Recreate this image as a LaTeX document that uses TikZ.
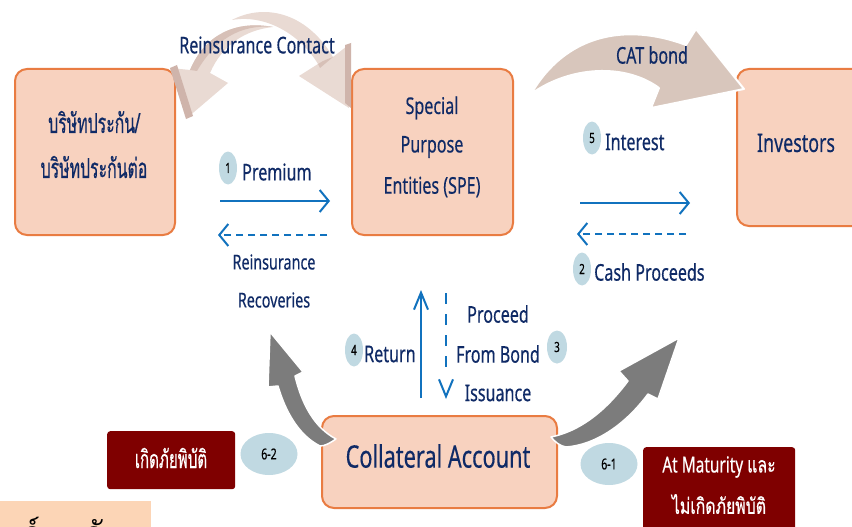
\documentclass[tikz,border=0pt]{standalone}
\usepackage{fontspec}
\usetikzlibrary{arrows.meta,shapes.geometric}
\setmainfont[FakeStretch=0.70,FakeBold=0.35]{Noto Sans}
\newfontfamily\thaifont[Script=Thai,FakeStretch=0.72,FakeBold=0.5]{Loma}
\newfontfamily\thaibold[Script=Thai]{Loma}
\definecolor{peach}{HTML}{F8D2BF}
\definecolor{edgeorange}{HTML}{E97C42}
\definecolor{navy}{HTML}{0F2A66}
\definecolor{flowblue}{HTML}{1172BE}
\definecolor{badge}{HTML}{C0D9E2}
\definecolor{darkred}{HTML}{7F0000}
\definecolor{bandpeach}{HTML}{FCD5B6}
\definecolor{catbody}{HTML}{D8C6BC}
\definecolor{paletan}{HTML}{E9DAD3}
\definecolor{bartan}{HTML}{CFB4AB}
\definecolor{arrgray}{HTML}{7C7C7C}
\tikzset{
  entity/.style={draw=edgeorange,fill=peach,line width=2pt,rounded corners=12pt,inner sep=0pt,anchor=north west},
  lab/.style={text=navy,font=\fontsize{23}{26}\selectfont,inner sep=0pt},
  labsmall/.style={lab,font=\fontsize{20.5}{24}\selectfont},
  numsmall/.style={ellipse,fill=badge,inner sep=0pt,text=black,minimum width=18pt,minimum height=33pt,font=\fontsize{14}{14}\selectfont},
  numbig/.style={ellipse,fill=badge,inner sep=0pt,text=black,minimum width=57pt,minimum height=42pt,font=\fontsize{15}{15}\selectfont},
  flow/.style={flowblue,line width=2pt,-{Straight Barb[length=9pt,width=22pt,line width=2pt]}},
  flowd/.style={flow,dash pattern=on 7pt off 5pt},
  flowv/.style={flowblue,line width=2pt,-{Straight Barb[length=17pt,width=14pt,line width=2pt]}},
  flowvd/.style={flowblue,line width=2pt,dash pattern=on 11pt off 10pt},
  tagbox/.style={fill=darkred,rounded corners=3pt,inner sep=0pt,anchor=north west},
  taglab/.style={text=white,inner sep=0pt,font=\fontsize{22}{24}\selectfont},
}
\begin{document}
\begin{tikzpicture}[x=1pt,y=-1pt]
\clip (0,0) rectangle (852,527);
\fill[white] (0,0) rectangle (852,527);
% bottom-left band
\fill[bandpeach] (0,501) rectangle (151,527);
\node[anchor=base,inner sep=0pt,text=black,font=\thaibold\fontsize{30}{30}\selectfont] (bandA) at (32,543) {ร์};
\node[anchor=base,inner sep=0pt,text=black,font=\thaibold\fontsize{30}{30}\selectfont] (bandB) at (94,543) {กั};
% entities
\node[entity,minimum width=160pt,minimum height=166pt] (ins) at (14,68) {};
\node[entity,minimum width=161pt,minimum height=166pt] (spe) at (351,68) {};
\node[entity,minimum width=140pt,minimum height=157pt] (inv) at (736,68) {};
\node[entity,minimum width=235pt,minimum height=92pt] (coll) at (321,415) {};
% reinsurance curved arrows
\fill[paletan] (232,20) .. controls (262,4) and (305,10) .. (333,57) -- (351,43) -- (349,108) -- (299,76) -- (318,64) .. controls (300,34) and (265,14) .. (232,20) -- cycle;
\fill[bartan] (345,45) -- (351,43) -- (351,108) -- (345,103) -- cycle;
\fill[bartan!70!paletan] (318,64) .. controls (324,60) and (328,59) .. (333,57) -- (320,68) -- cycle;
\fill[paletan] (273,27) .. controls (235,20) and (205,35) .. (190,70) -- (170,68) -- (187,118) -- (228,83) -- (210,73) .. controls (222,45) and (245,30) .. (273,27) -- cycle;
\fill[bartan] (170,68) -- (177,65) -- (193,116) -- (186,119) -- cycle;
\fill[bartan!70!paletan] (190,70) .. controls (205,35) and (235,20) .. (273,27) .. controls (240,24) and (215,40) .. (197,71) -- cycle;
% CAT bond arrow
\filldraw[catbody,draw=white,line width=2pt,line join=round] (531,94) .. controls (565,35) and (625,22) .. (686,45) -- (696,29) -- (744,89) -- (651,108) -- (659,88) .. controls (625,63) and (570,66) .. (531,94) -- cycle;
% gray arrows
\filldraw[arrgray,draw=white,line width=1.5pt,line join=round] (270,332) -- (303,372) -- (295,376) .. controls (302,405) and (315,428) .. (336,439) .. controls (330,443) and (325,446) .. (320,446) .. controls (298,435) and (285,410) .. (278,386) -- (268,387) -- cycle;
\filldraw[arrgray,draw=white,line width=1.5pt,line join=round] (551,437) .. controls (585,430) and (610,405) .. (628,381) -- (619,371) -- (679,338) -- (658,399) -- (648,394) .. controls (625,425) and (595,445) .. (566,447) .. controls (560,446) and (555,442) .. (551,437) -- cycle;
% tags
\node[tagbox,minimum width=128pt,minimum height=58pt] (tagA) at (107,431) {};
\node[tagbox,minimum width=152pt,minimum height=90pt] (tagB) at (643,447) {};
% connectors
\coordinate (premS) at (220,201); \coordinate (premE) at (330,201);
\coordinate (recS) at (327,235); \coordinate (recE) at (218,235);
\coordinate (intS) at (580,203); \coordinate (intE) at (690,203);
\coordinate (cashS) at (686,234); \coordinate (cashE) at (577,234);
\coordinate (retS) at (421,398); \coordinate (retE) at (421,290);
\coordinate (prS) at (446,293); \coordinate (prM) at (446,372);
\coordinate (prH) at (446,394); \coordinate (prE) at (446,399);
\draw[flow] (premS) -- (premE);
\draw[flowd] (recS) -- (recE);
\draw[flow] (intS) -- (intE);
\draw[flowd] (cashS) -- (cashE);
\draw[flowv] (retS) -- (retE);
\draw[flowvd] (prS) -- (prM);
\draw[flowv] (prH) -- (prE);
% badges
\node[numsmall] (n1) at (228,168) {1};
\node[numsmall] (n5) at (592,138) {5};
\node[numsmall] (n2) at (582,269) {2};
\node[numsmall] (n4) at (354,350) {4};
\node[numsmall,minimum width=20pt] (n3) at (557,347) {3};
\node[numbig] (n62) at (269,454) {6-2};
\node[numbig] (n61) at (609,464) {6-1};
% labels
\node[lab] (lRC) at (257,45) {Reinsurance Contact};
\node[lab,anchor=west] (lPrem) at (242,172) {Premium};
\node[labsmall] (lRe1) at (274,262) {Reinsurance};
\node[labsmall] (lRe2) at (274,300) {Recoveries};
\node[lab] (lS1) at (432,108) {Special};
\node[lab] (lS2) at (432,147) {Purpose};
\node[lab] (lS3) at (432,187) {Entities (SPE)};
\node[lab] (lCat) at (652,55) {CAT bond};
\node[lab,anchor=west] (lInt) at (605,142) {Interest};
\node[lab,anchor=west] (lCash) at (594,272) {Cash Proceeds};
\node[lab,anchor=west] (lRet) at (364,354) {Return};
\node[lab] (lP1) at (498,314) {Proceed};
\node[lab] (lP2) at (498,354) {From Bond};
\node[lab] (lP3) at (498,393) {Issuance};
\node[lab,font=\fontsize{25.5}{28}\selectfont] (lInv) at (796,143) {Investors};
\node[lab,font=\fontsize{31}{34}\selectfont] (lColl) at (438,456) {Collateral Account};
\node[lab,font=\thaifont\fontsize{22}{26}\selectfont] (lT1) at (94,122) {\scalebox{1}[1.25]{บริษัทประกัน/}};
\node[lab,font=\thaifont\fontsize{22}{26}\selectfont] (lT2) at (94,167) {\scalebox{1}[1.25]{บริษัทประกันต่อ}};
\node[taglab,font=\thaifont\fontsize{21}{24}\selectfont] (lA) at (171,458) {\scalebox{1}[1.2]{เกิดภัยพิบัติ}};
\node[taglab] (lB1) at (719,467) {At Maturity {\thaifont และ}};
\node[taglab,font=\thaifont\fontsize{22}{24}\selectfont] (lB2) at (719,504) {ไม่เกิดภัยพิบัติ};
\end{tikzpicture}
\end{document}
